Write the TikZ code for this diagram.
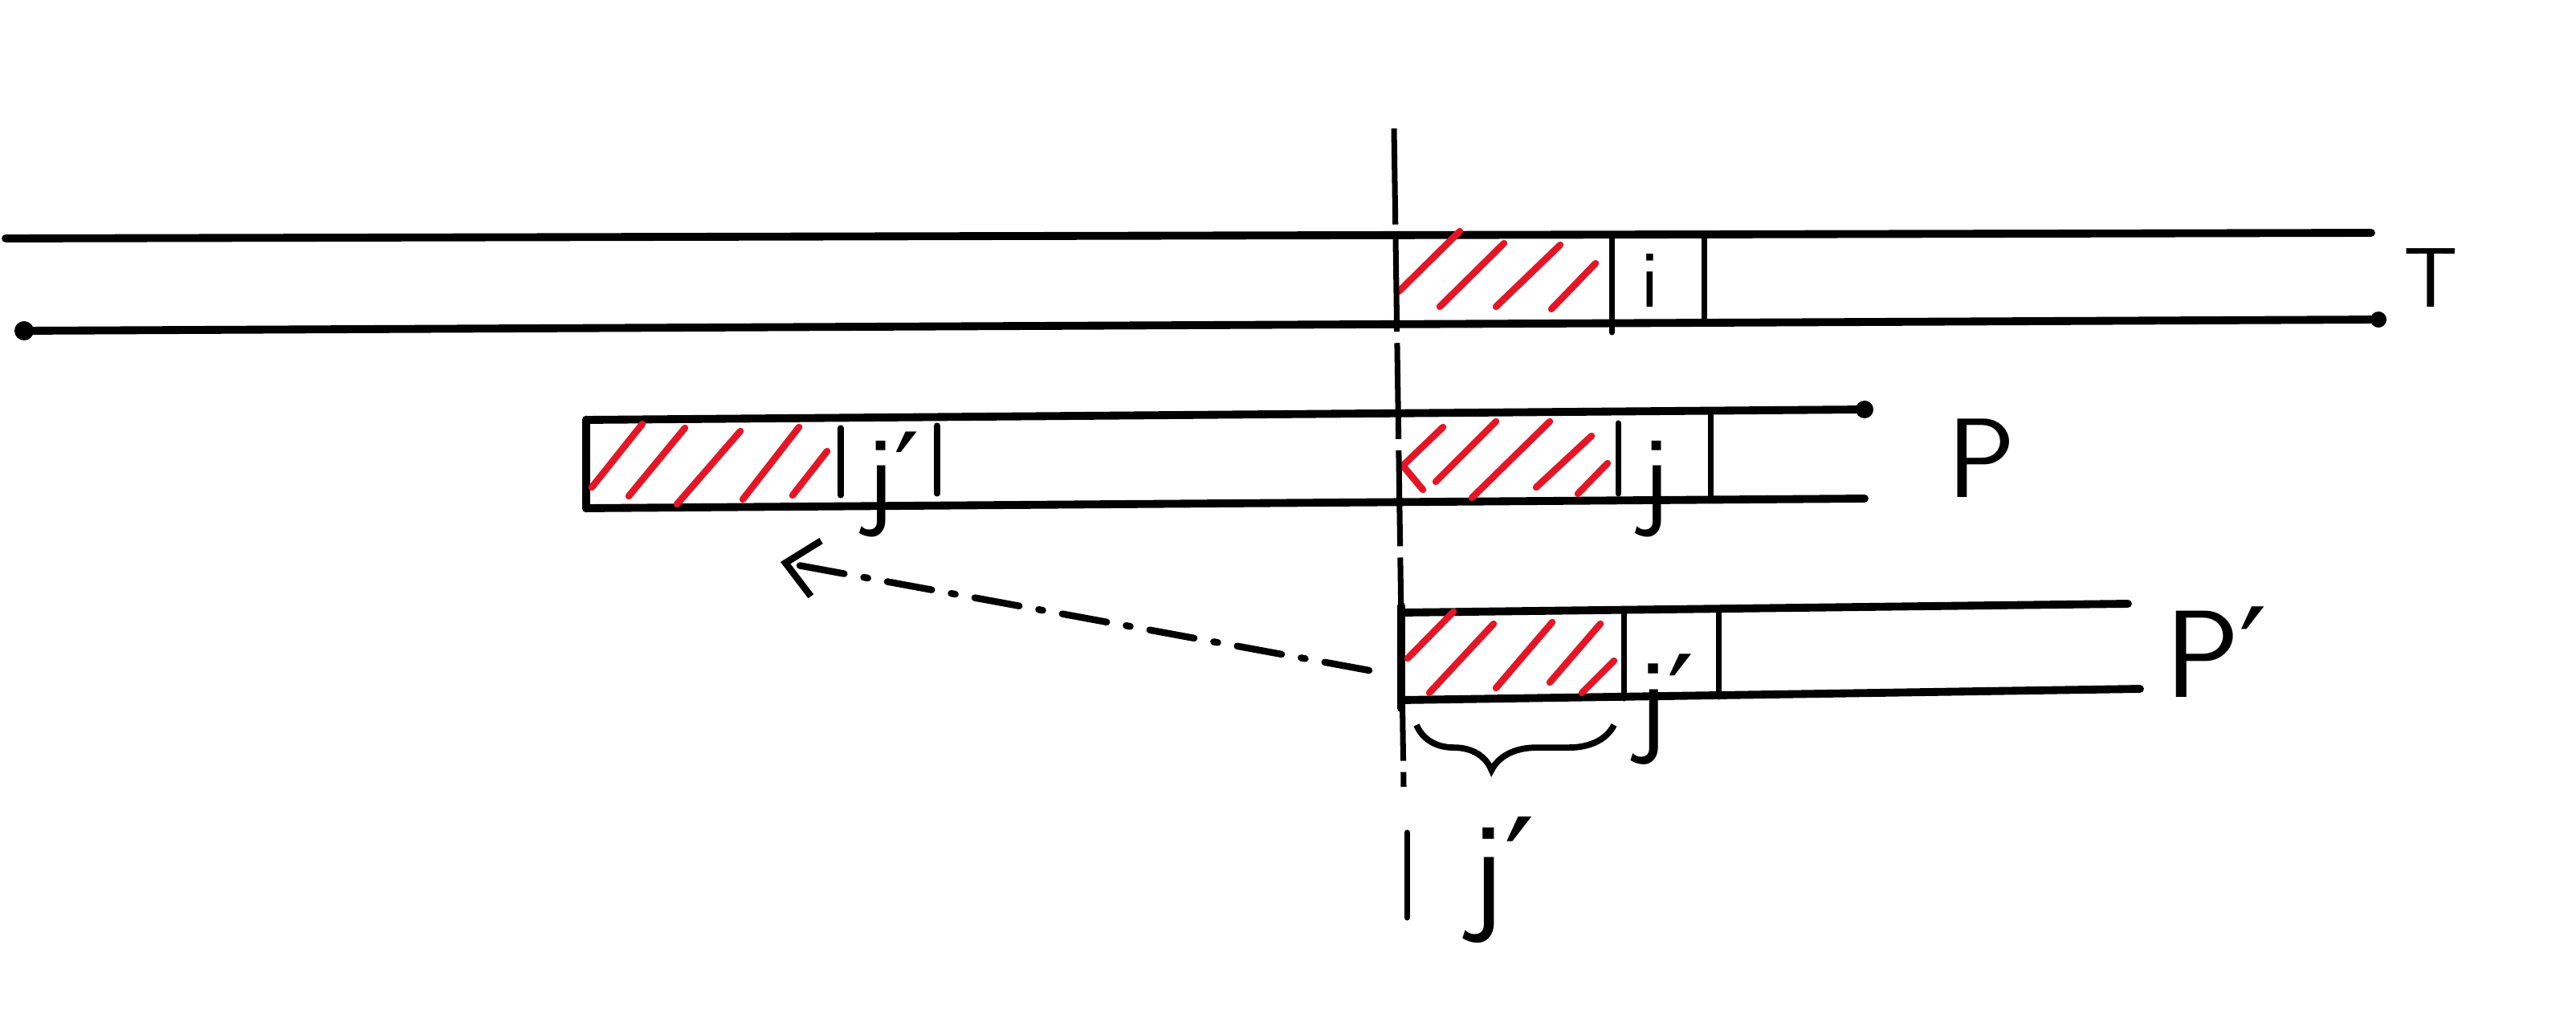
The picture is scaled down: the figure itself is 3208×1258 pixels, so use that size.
\documentclass[tikz,border=0pt]{standalone}
\usepackage{fontspec}
\newfontfamily\primefont{DejaVu Sans}
\usetikzlibrary{arrows.meta,decorations.pathreplacing}
\definecolor{hatchred}{RGB}{228,22,38}
\newcommand{\pr}{{\primefont ′}}
\begin{document}
\begin{tikzpicture}[x=0.01cm,y=-0.01cm,
  rail/.style={line width=2.8pt,line cap=round},
  sep/.style={line width=2pt,line cap=round},
  edge/.style={line width=3pt,line cap=round},
  hatch/.style={hatchred,line width=2.4pt,line cap=round},
  lbl/.style={inner sep=0pt,font=\sffamily\fontsize{#1}{#1}\selectfont},
  lbl/.default=40
]
\useasboundingbox[fill=white] (0,0) rectangle (3208,1258);

% ---------------- T row ----------------
\coordinate (Ttl) at (7,297);
\coordinate (Ttr) at (2953,290);
\coordinate (Tbl) at (30,412);
\coordinate (Tbr) at (2962,398);
\draw[rail] (Ttl) -- (Ttr);
\draw[rail] (Tbl) -- (Tbr);
\fill (Tbl) circle (12);
\fill (Tbr) circle (10);
\draw[sep] (2007,293) -- (2007,414);
\draw[sep] (2122,293) -- (2122,403);
% hatching
\draw[hatch] (1742,363) -- (1818,288);
\draw[hatch] (1793,382) -- (1873,303);
\draw[hatch] (1863,382) -- (1943,305);
\draw[hatch] (1932,385) -- (1987,328);
\node[lbl=29,anchor=base] (li) at (2055,383) {i};
\node[lbl=30] (labT) at (3027,346) {T};

% ---------------- P row ----------------
\coordinate (Ptl) at (730,523);
\coordinate (Ptr) at (2322,510);
\coordinate (Pbl) at (730,633);
\coordinate (Pbr) at (2322,621);
\draw[rail] (Ptl) -- (Ptr);
\draw[rail] (Pbl) -- (Pbr);
\fill (Ptr) circle (11);
\draw[edge] (Ptl) -- (Pbl);
% left matched block
\draw[hatch] (800,528) -- (737,607);
\draw[hatch] (853,533) -- (783,618);
\draw[hatch] (922,537) -- (843,628);
\draw[hatch] (995,532) -- (925,622);
\draw[hatch] (1030,562) -- (987,617);
\draw[sep] (1047,533) -- (1047,617);
\node[lbl=40,anchor=base] (ljl) at (1112,640) {j\pr};
\draw[sep] (1167,530) -- (1167,615);
% right matched block
\draw[hatch] (1797,532) -- (1747,580) -- (1772,610);
\draw[hatch] (1788,600) -- (1863,525);
\draw[hatch] (1833,620) -- (1930,525);
\draw[hatch] (1913,607) -- (1982,543);
\draw[hatch] (1965,615) -- (2002,577);
\draw[sep] (2015,527) -- (2015,615);
\node[lbl=40,anchor=base] (lj) at (2062,640) {j};
\draw[sep] (2130,513) -- (2130,622);
\node[lbl=40] (labP) at (2468,571) {P};

% ---------------- P' row ----------------
\coordinate (Qtl) at (1745,763);
\coordinate (Qtr) at (2650,752);
\coordinate (Qbl) at (1745,872);
\coordinate (Qbr) at (2665,858);
\draw[rail] (Qtl) -- (Qtr);
\draw[rail] (Qbl) -- (Qbr);
\draw[edge] (1745,755) -- (1745,882);
\draw[hatch] (1810,762) -- (1753,820);
\draw[hatch] (1860,777) -- (1780,863);
\draw[hatch] (1933,775) -- (1863,857);
\draw[hatch] (1993,777) -- (1930,850);
\draw[hatch] (2010,823) -- (1970,863);
\draw[sep] (2022,764) -- (2022,870);
\draw[sep] (2140,761) -- (2140,868);
\node[lbl=42,anchor=base] (ljq) at (2075,922) {j\pr};
\node[lbl=44] (labPp) at (2760,812) {P\pr};

% ---------------- alignment line ----------------
\draw[line width=2pt,dash pattern=on 34pt off 4pt] (1736,160) -- (1748,980);
\draw[sep] (1752,1037) -- (1752,1143);
\draw[line width=2.2pt,decorate,decoration={brace,mirror,amplitude=16pt,aspect=0.38}]
  (1764,903) -- (2010,903);
\node[lbl=48,anchor=base] (ljb) at (1872,1140) {j\pr};

% ---------------- shift arrow ----------------
\coordinate (arrS) at (1705,835);
\coordinate (arrE) at (972,700);
\draw[line width=2.4pt,line cap=round,
      dash pattern=on 16pt off 7pt on 1.5pt off 7pt,
      -{Straight Barb[length=11pt,width=20pt,line width=2.4pt]}]
  (arrS) -- (arrE);
\end{tikzpicture}
\end{document}
